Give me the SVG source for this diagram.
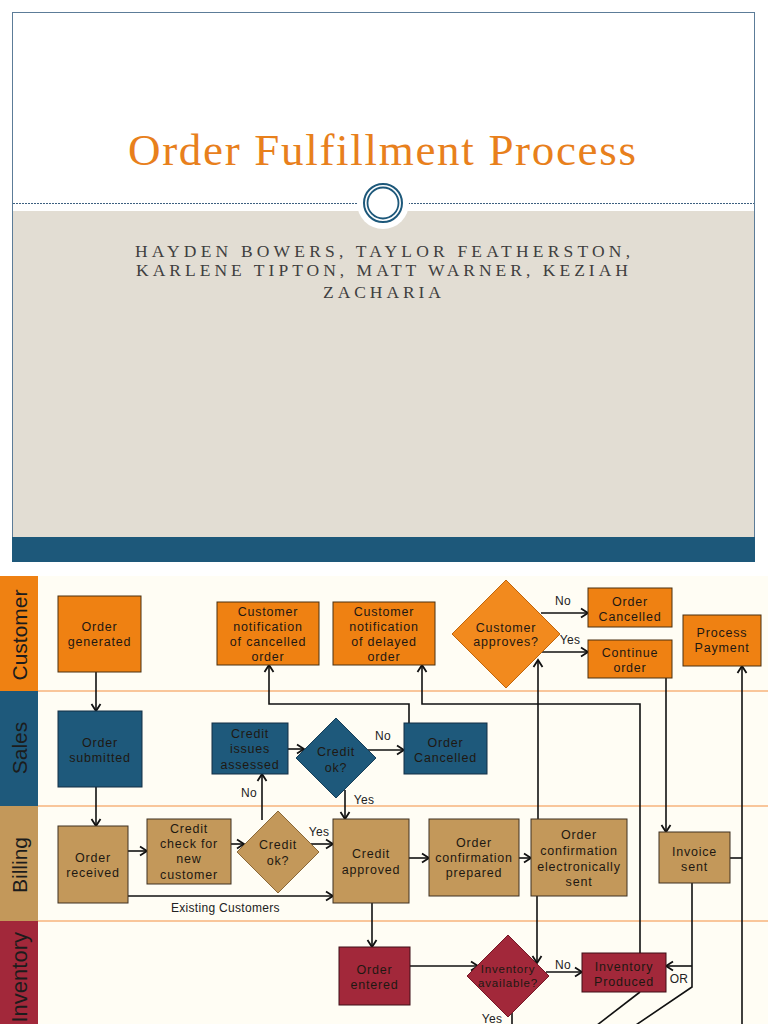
<svg xmlns="http://www.w3.org/2000/svg" width="768" height="1024" viewBox="0 0 768 1024">
<style>
.nt{font-family:"Liberation Sans",Arial,sans-serif;font-size:12.5px;letter-spacing:0.8px;fill:#1e1812;text-anchor:middle}
.lb{font-family:"Liberation Sans",Arial,sans-serif;font-size:12px;letter-spacing:0.3px;fill:#222}
.lane{font-family:"Liberation Sans",Arial,sans-serif;font-size:21px;fill:#1c1c1c}
.or{fill:#ef8112;stroke:#4a3010;stroke-width:1}
.bl{fill:#1e597b;stroke:#132f45;stroke-width:1}
.tn{fill:#c3985a;stroke:#3e3020;stroke-width:1}
.rd{fill:#a2283a;stroke:#3e0e16;stroke-width:1}
.dor{fill:#f28a1e;stroke:#c0650c;stroke-width:1}
.dbl{fill:#1e597b;stroke:#163e58;stroke-width:1}
.dtn{fill:#c3985a;stroke:#8a6838;stroke-width:1}
.drd{fill:#a2283a;stroke:#751826;stroke-width:1}
.c{fill:none;stroke:#111;stroke-width:1.6}
.ca{fill:none;stroke:#111;stroke-width:1.6;marker-end:url(#ah)}
.sep{stroke:#f9c69a;stroke-width:2}
</style>
<defs>
<marker id="ah" markerWidth="12" markerHeight="12" refX="10" refY="6" orient="auto" markerUnits="userSpaceOnUse">
<path d="M3,1.5 L10,6 L3,10.5" fill="none" stroke="#111" stroke-width="1.8"/>
</marker>
</defs>
<rect width="768" height="1024" fill="#ffffff"/>
<g id="slide">
<rect x="12.5" y="12.5" width="742" height="549" fill="#ffffff" stroke="#5c7c98" stroke-width="1"/>
<rect x="13" y="211" width="741" height="326" fill="#e2ddd3"/>
<rect x="12" y="537" width="743" height="25" fill="#1d587a"/>
<line x1="13" y1="203.5" x2="358" y2="203.5" stroke="#3d6080" stroke-width="1" stroke-dasharray="2,1"/>
<line x1="408" y1="203.5" x2="754" y2="203.5" stroke="#3d6080" stroke-width="1" stroke-dasharray="2,1"/>
<circle cx="383" cy="203" r="26" fill="#ffffff"/>
<circle cx="383" cy="203" r="19" fill="none" stroke="#1d587a" stroke-width="2"/>
<circle cx="383" cy="203" r="15.5" fill="none" stroke="#1d587a" stroke-width="1.8"/>
<text x="382" y="165" text-anchor="middle" font-family="Liberation Serif, Times New Roman, serif" font-size="45" fill="#e8801c" textLength="508" lengthAdjust="spacing">Order Fulfillment Process</text>
<g font-family="Liberation Serif, Times New Roman, serif" font-size="17.5" fill="#3f3f3f" text-anchor="middle">
<text x="382.5" y="257" textLength="495" lengthAdjust="spacing">HAYDEN BOWERS, TAYLOR FEATHERSTON,</text>
<text x="382" y="276" textLength="492" lengthAdjust="spacing">KARLENE TIPTON, MATT WARNER, KEZIAH</text>
<text x="382" y="298" textLength="118" lengthAdjust="spacing">ZACHARIA</text>
</g>
</g>
<g id="lanes">
<rect x="0" y="576" width="768" height="448" fill="#fffdf4"/>
<rect x="0" y="576" width="38" height="115" fill="#ef8112"/>
<rect x="0" y="691" width="38" height="115" fill="#1e597b"/>
<rect x="0" y="806" width="38" height="115" fill="#c3985a"/>
<rect x="0" y="921" width="38" height="103" fill="#a2283a"/>
<line class="sep" x1="38" y1="691" x2="768" y2="691"/>
<line class="sep" x1="38" y1="806" x2="768" y2="806"/>
<line class="sep" x1="38" y1="921" x2="768" y2="921"/>
<text class="lane" transform="translate(27,635) rotate(-90)" text-anchor="middle">Customer</text>
<text class="lane" transform="translate(27,748) rotate(-90)" text-anchor="middle">Sales</text>
<text class="lane" transform="translate(27,865) rotate(-90)" text-anchor="middle">Billing</text>
<text class="lane" transform="translate(27,932) rotate(-90)" text-anchor="end" style="font-size:22px">Inventory</text>
</g>
<g id="connectors">
<path class="ca" d="M96,672 V711"/>
<path class="ca" d="M96,787 V826"/>
<path class="ca" d="M128,851 H147"/>
<path class="ca" d="M231,844 H244"/>
<path class="ca" d="M262,820 V774"/>
<path class="ca" d="M288,749 H304"/>
<path class="ca" d="M368,750 H404"/>
<path class="ca" d="M345,790 V819"/>
<path class="ca" d="M311,844 H333"/>
<path class="ca" d="M128,896 H333"/>
<path class="ca" d="M409,858 H429"/>
<path class="ca" d="M519,858 H531"/>
<path class="ca" d="M372,903 V947"/>
<path class="ca" d="M410,966 H478"/>
<path class="ca" d="M537,896 V963"/>
<path class="ca" d="M546,972 H582"/>
<path class="c" d="M512,1012 V1024"/>
<path class="c" d="M692,883 V987 L630,1029"/>
<path class="ca" d="M692,966 H666"/>
<path class="c" d="M640,992 L592,1029"/>
<path class="c" d="M730,858 H742"/>
<path class="ca" d="M742,1030 V666"/>
<path class="ca" d="M666,678 V832"/>
<path class="ca" d="M538,819 V660"/>
<path class="ca" d="M640,953 V704 H422 V665"/>
<path class="ca" d="M409,723 V704 H269 V665"/>
<path class="ca" d="M541,613 H588"/>
<path class="ca" d="M538,652 H588"/>
<text class="lb" x="249" y="797" text-anchor="middle">No</text>
<text class="lb" x="383" y="740" text-anchor="middle">No</text>
<text class="lb" x="364" y="804" text-anchor="middle">Yes</text>
<text class="lb" x="319" y="836" text-anchor="middle">Yes</text>
<text class="lb" x="171" y="912">Existing Customers</text>
<text class="lb" x="563" y="969" text-anchor="middle">No</text>
<text class="lb" x="492" y="1023" text-anchor="middle">Yes</text>
<text class="lb" x="679" y="983" text-anchor="middle">OR</text>
<text class="lb" x="563" y="605" text-anchor="middle">No</text>
<text class="lb" x="570" y="644" text-anchor="middle">Yes</text>
</g>
<g id="n-order-generated"><rect class="or" x="58" y="596" width="83" height="76"/><text class="nt" x="99.5" y="631">Order</text><text class="nt" x="99.5" y="646">generated</text></g>
<g id="n-notif-cancelled"><rect class="or" x="217" y="602" width="102" height="63"/><text class="nt" x="268" y="615.5">Customer</text><text class="nt" x="268" y="630.5">notification</text><text class="nt" x="268" y="645.5">of cancelled</text><text class="nt" x="268" y="660.5">order</text></g>
<g id="n-notif-delayed"><rect class="or" x="333" y="602" width="102" height="63"/><text class="nt" x="384" y="615.5">Customer</text><text class="nt" x="384" y="630.5">notification</text><text class="nt" x="384" y="645.5">of delayed</text><text class="nt" x="384" y="660.5">order</text></g>
<g id="n-customer-approves"><polygon class="dor" points="506,580 560,634 506,688 452,634"/><text class="nt" x="506" y="631.5">Customer</text><text class="nt" x="506" y="645.5">approves?</text></g>
<g id="n-order-cancelled-customer"><rect class="or" x="588" y="588" width="84" height="39"/><text class="nt" x="630" y="605.5">Order</text><text class="nt" x="630" y="620.5">Cancelled</text></g>
<g id="n-continue-order"><rect class="or" x="588" y="640" width="84" height="38"/><text class="nt" x="630" y="656.5">Continue</text><text class="nt" x="630" y="671.5">order</text></g>
<g id="n-process-payment"><rect class="or" x="683" y="615" width="78" height="51"/><text class="nt" x="722" y="636.5">Process</text><text class="nt" x="722" y="652">Payment</text></g>
<g id="n-order-submitted"><rect class="bl" x="58" y="711" width="84" height="76"/><text class="nt" x="100" y="746.5">Order</text><text class="nt" x="100" y="761.5">submitted</text></g>
<g id="n-credit-issues"><rect class="bl" x="212" y="723" width="76" height="51"/><text class="nt" x="250" y="737.5">Credit</text><text class="nt" x="250" y="753">issues</text><text class="nt" x="250" y="768.5">assessed</text></g>
<g id="n-credit-ok-sales"><polygon class="dbl" points="336,718 376,758 336,798 296,758"/><text class="nt" x="336" y="755.5">Credit</text><text class="nt" x="336" y="771.5">ok?</text></g>
<g id="n-order-cancelled-sales"><rect class="bl" x="404" y="723" width="83" height="51"/><text class="nt" x="445.5" y="746.5">Order</text><text class="nt" x="445.5" y="761.5">Cancelled</text></g>
<g id="n-order-received"><rect class="tn" x="58" y="826" width="70" height="77"/><text class="nt" x="93" y="861.5">Order</text><text class="nt" x="93" y="876.5">received</text></g>
<g id="n-credit-check"><rect class="tn" x="147" y="819" width="84" height="65"/><text class="nt" x="189" y="832.5">Credit</text><text class="nt" x="189" y="847.5">check for</text><text class="nt" x="189" y="863">new</text><text class="nt" x="189" y="878.5">customer</text></g>
<g id="n-credit-ok-billing"><polygon class="dtn" points="278,811 319,852 278,893 237,852"/><text class="nt" x="278" y="848.5">Credit</text><text class="nt" x="278" y="864.5">ok?</text></g>
<g id="n-credit-approved"><rect class="tn" x="333" y="819" width="76" height="84"/><text class="nt" x="371" y="857.5">Credit</text><text class="nt" x="371" y="873.5">approved</text></g>
<g id="n-conf-prepared"><rect class="tn" x="429" y="819" width="90" height="77"/><text class="nt" x="474" y="846.5">Order</text><text class="nt" x="474" y="862">confirmation</text><text class="nt" x="474" y="876.5">prepared</text></g>
<g id="n-conf-sent"><rect class="tn" x="531" y="819" width="96" height="77"/><text class="nt" x="579" y="838.5">Order</text><text class="nt" x="579" y="855">confirmation</text><text class="nt" x="579" y="870.5">electronically</text><text class="nt" x="579" y="885.5">sent</text></g>
<g id="n-invoice-sent"><rect class="tn" x="659" y="832" width="71" height="51"/><text class="nt" x="694.5" y="855.5">Invoice</text><text class="nt" x="694.5" y="870.5">sent</text></g>
<g id="n-order-entered"><rect class="rd" x="339" y="947" width="71" height="58"/><text class="nt" x="374.5" y="973.5">Order</text><text class="nt" x="374.5" y="988.5">entered</text></g>
<g id="n-inventory-available"><polygon class="drd" points="508,935 549,976 508,1017 467,976"/><text class="nt" x="508" y="973" style="font-size:11.5px">Inventory</text><text class="nt" x="508" y="986.5" style="font-size:11.5px">available?</text></g>
<g id="n-inventory-produced"><rect class="rd" x="582" y="953" width="84" height="39"/><text class="nt" x="624" y="970.5">Inventory</text><text class="nt" x="624" y="985.5">Produced</text></g>
</svg>
